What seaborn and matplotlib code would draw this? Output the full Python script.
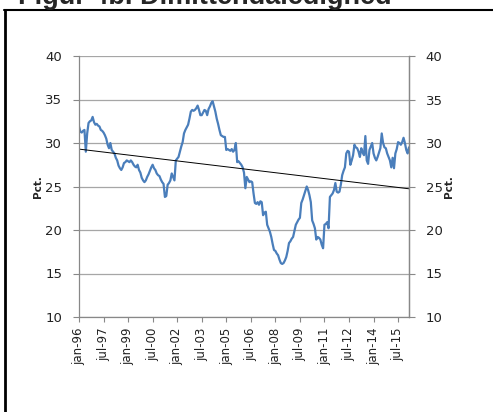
import numpy as np
import pandas as pd
import matplotlib
matplotlib.use("Agg")
import matplotlib.pyplot as plt
from matplotlib.lines import Line2D
import seaborn as sns

# Monthly values, jan-96 .. mar-16
pct = [
    31.9, 31.3, 31.2, 31.4, 31.5, 29.0, 31.1, 32.3, 32.5, 32.6, 33.0, 32.4,
    32.1, 32.2, 32.0, 31.9, 31.5, 31.4, 31.2, 30.9, 30.5, 29.8, 29.4, 30.0,
    29.2, 29.0, 28.8, 28.3, 28.0, 27.4, 27.1, 26.9, 27.2, 27.7, 27.8, 28.0,
    27.9, 27.8, 28.0, 27.8, 27.5, 27.3, 27.2, 27.5, 26.9, 26.6, 26.0, 25.7,
    25.5, 25.7, 26.1, 26.4, 26.8, 27.2, 27.5, 27.1, 26.9, 26.5, 26.3, 26.2,
    25.8, 25.5, 25.3, 23.8, 23.9, 25.2, 25.4, 25.7, 26.5, 26.1, 25.7, 28.0,
    28.2, 28.4, 29.0, 29.6, 30.1, 31.1, 31.5, 31.8, 32.1, 32.8, 33.6, 33.8,
    33.7, 33.8, 34.0, 34.3, 33.8, 33.2, 33.2, 33.5, 33.8, 33.7, 33.2, 33.9,
    34.2, 34.6, 34.8, 34.2, 33.6, 32.8, 32.2, 31.5, 30.9, 30.8, 30.7, 30.7,
    29.2, 29.3, 29.2, 29.1, 29.3, 29.0, 29.2, 30.0, 27.8, 27.9, 27.7, 27.5,
    27.2, 26.6, 24.8, 26.1, 25.8, 25.5, 25.6, 25.5, 24.2, 23.1, 23.0, 23.2,
    22.9, 23.3, 23.2, 21.7, 22.0, 22.1, 20.6, 20.2, 19.8, 19.2, 18.4, 17.7,
    17.6, 17.3, 17.1, 16.6, 16.2, 16.1, 16.2, 16.5, 16.9, 17.6, 18.5, 18.7,
    19.0, 19.2, 19.9, 20.6, 20.9, 21.2, 21.4, 23.1, 23.5, 24.0, 24.5, 25.0,
    24.6, 24.0, 23.2, 21.1, 20.7, 20.2, 18.9, 19.2, 19.1, 18.9, 18.3, 17.9,
    20.6, 20.7, 20.9, 20.2, 23.8, 24.0, 24.2, 24.6, 25.4, 24.4, 24.3, 24.4,
    25.2, 26.3, 26.8, 27.2, 28.8, 29.1, 29.0, 27.5, 28.0, 28.6, 29.8, 29.5,
    29.4, 29.0, 28.4, 29.4, 28.9, 28.6, 30.8, 28.0, 27.6, 29.2, 29.6, 30.0,
    28.8, 28.3, 28.0, 28.4, 28.9, 29.4, 31.1, 30.0, 29.5, 29.4, 28.8, 28.4,
    28.0, 27.2, 28.3, 27.1, 28.8, 29.3, 30.1, 30.0, 29.8, 30.1, 30.6, 30.0,
    29.2, 28.8, 29.5,
]
tick_labels = ["jan-96", "jul-97", "jan-99", "jul-00", "jan-02", "jul-03", "jan-05",
               "jul-06", "jan-08", "jul-09", "jan-11", "jul-12", "jan-14", "jul-15"]
y_ticks = [10, 15, 20, 25, 30, 35, 40]
title = "Figur 4b. Dimittendaledighed"

df = pd.DataFrame({"month": np.arange(len(pct)), "pct": pct})

sns.set_style("white")
plt.rcParams["font.family"] = ["DejaVu Sans"]

fig = plt.figure(figsize=(4.93, 4.12), dpi=100)
ax = fig.add_axes([79 / 493, 1 - 317 / 412, 330 / 493, 261 / 412])

sns.lineplot(x="month", y="pct", data=df, ax=ax, color="#4a7ebb", linewidth=1.6)
sns.regplot(x="month", y="pct", data=df, ax=ax, scatter=False, ci=None,
            line_kws={"color": "black", "linewidth": 0.7})

ax.set_xlim(0, len(pct) - 1)
ax.set_ylim(10, 40)
ax.set_yticks(y_ticks)
ax.set_xticks(np.arange(len(tick_labels)) * 18)
ax.set_xticklabels(tick_labels, rotation=90, fontsize=8.5, color="#222222")
ax.tick_params(axis="y", labelsize=9.5, colors="#222222", length=4, width=0.8,
               color="#888888", pad=8, direction="out", left=True)
ax.tick_params(axis="x", length=3.5, width=0.8, color="#888888", pad=4,
               direction="out", bottom=True)
ax.yaxis.grid(True, color="#a6a6a6", linewidth=0.9)
ax.set_axisbelow(True)
ax.set_xlabel("")
ax.set_ylabel("Pct.", fontsize=7.5, fontweight="bold", labelpad=2)
for side in ["left", "bottom", "right"]:
    ax.spines[side].set_color("#888888")
    ax.spines[side].set_linewidth(0.9)
ax.spines["top"].set_visible(False)

ax2 = ax.twinx()
ax2.set_ylim(10, 40)
ax2.set_yticks(y_ticks)
ax2.tick_params(axis="y", labelsize=9.5, colors="#222222", length=4, width=0.8,
                color="#888888", pad=8, direction="out", right=True)
ax2.set_ylabel("Pct.", fontsize=7.5, fontweight="bold", labelpad=1)
for side in ["left", "bottom", "top"]:
    ax2.spines[side].set_visible(False)
ax2.spines["right"].set_color("#888888")
ax2.spines["right"].set_linewidth(0.9)

# frame box around the figure (only left and top edges show)
fig.add_artist(Line2D([4.5 / 493, 4.5 / 493], [0, 1 - 10 / 412],
                      transform=fig.transFigure, color="black", linewidth=2.0))
fig.add_artist(Line2D([3.5 / 493, 1], [1 - 10 / 412, 1 - 10 / 412],
                      transform=fig.transFigure, color="black", linewidth=1.5))

fig.text(18 / 493, 1 - 4 / 412, title, fontsize=19.5, fontweight="bold",
         family=["Liberation Sans", "DejaVu Sans"], ha="left", va="baseline")

fig.savefig("out.png", dpi=100)
